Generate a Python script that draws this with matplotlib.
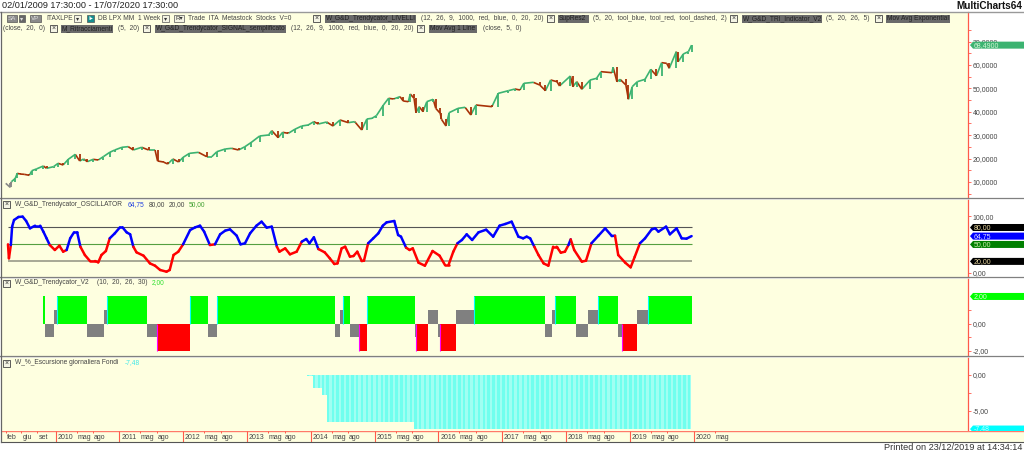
import numpy as np
import matplotlib
matplotlib.use("Agg")
import matplotlib.pyplot as plt
from matplotlib.collections import LineCollection
from matplotlib.patches import Rectangle, Polygon

plt.rcParams['font.family'] = ['Liberation Sans', 'DejaVu Sans']

# price, weekly chart (thousands)
price_x = [2009.22, 2009.29, 2009.31, 2009.37, 2009.40, 2009.44, 2009.51, 2009.59, 2009.63, 2009.70, 2009.81, 2009.86, 2009.97,
           2010.04, 2010.12, 2010.20, 2010.31, 2010.38, 2010.44, 2010.50, 2010.59, 2010.67, 2010.75, 2010.85, 2010.93,
           2011.04, 2011.14, 2011.22, 2011.35, 2011.46, 2011.56, 2011.60, 2011.69, 2011.76, 2011.84, 2011.93,
           2012.00, 2012.10, 2012.24, 2012.37, 2012.45, 2012.53, 2012.66, 2012.76, 2012.87, 2012.97,
           2013.07, 2013.20, 2013.34, 2013.39, 2013.49, 2013.56, 2013.65, 2013.75, 2013.86, 2013.96,
           2014.05, 2014.12, 2014.25, 2014.35, 2014.46, 2014.59, 2014.69, 2014.80, 2014.88, 2014.96,
           2015.03, 2015.14, 2015.22, 2015.30, 2015.37, 2015.40, 2015.45, 2015.53, 2015.56, 2015.62, 2015.65, 2015.70, 2015.76, 2015.82, 2015.92, 2015.96,
           2016.03, 2016.05, 2016.12, 2016.17, 2016.31, 2016.42, 2016.51, 2016.59, 2016.84, 2016.94,
           2017.10, 2017.20, 2017.28, 2017.34, 2017.49, 2017.59, 2017.68, 2017.76, 2017.86, 2017.90,
           2018.07, 2018.11, 2018.17, 2018.25, 2018.38, 2018.48, 2018.55, 2018.72, 2018.74, 2018.80, 2018.85, 2018.94, 2018.98,
           2019.04, 2019.12, 2019.24, 2019.33, 2019.42, 2019.50, 2019.58, 2019.62, 2019.73, 2019.76, 2019.84, 2019.92, 2019.97]
price_y = [9.43, 7.72, 10.14, 11.57, 13.70, 13.42, 13.28, 12.85, 14.84, 15.56, 16.84, 15.84, 16.55,
           17.98, 17.27, 19.69, 21.82, 18.97, 19.83, 18.69, 19.69, 19.40, 20.83, 22.68, 23.68,
           24.82, 25.10, 23.68, 24.82, 23.68, 23.68, 18.97, 18.55, 17.69, 19.83, 18.55,
           20.54, 22.25, 22.68, 20.83, 20.83, 22.96, 24.10, 24.39, 23.68, 25.10,
           26.95, 29.66, 30.09, 31.94, 28.95, 31.23, 30.80, 32.51, 33.93, 34.36,
           35.78, 34.79, 35.64, 33.93, 36.50, 35.36, 35.78, 32.22, 36.92, 37.21,
           38.35, 42.90, 45.75, 45.47, 46.18, 46.47, 44.62, 44.33, 47.61, 45.75, 39.63, 42.19, 40.06, 44.33, 45.33, 41.48,
           39.35, 36.78, 33.93, 39.63, 41.48, 41.91, 38.63, 42.90, 42.19, 47.89,
           49.03, 49.74, 49.32, 52.17, 52.59, 51.45, 49.03, 53.59, 52.88, 51.03,
           55.30, 50.74, 52.88, 49.60, 53.59, 54.30, 57.15, 56.72, 59.00, 52.88, 53.87, 51.45, 45.33,
           50.74, 52.88, 53.87, 58.15, 55.44, 61.00, 60.71, 58.57, 65.70, 61.42, 64.70, 65.70, 68.49]
price_last = 68.49

# oscillator
osc_x = [2009.255, 2009.27, 2009.30, 2009.32, 2009.35, 2009.42, 2009.485, 2009.54, 2009.60, 2009.68, 2009.76, 2009.81, 2009.86, 2009.91, 2009.99,
         2010.06, 2010.12, 2010.175, 2010.23, 2010.29, 2010.34, 2010.39, 2010.46, 2010.54, 2010.62, 2010.67, 2010.72, 2010.79, 2010.85, 2010.93,
         2011.01, 2011.05, 2011.115, 2011.17, 2011.22, 2011.27, 2011.38, 2011.48, 2011.56, 2011.64, 2011.74, 2011.79, 2011.85, 2011.925,
         2012.00, 2012.11, 2012.19, 2012.265, 2012.33, 2012.42, 2012.50, 2012.58, 2012.66, 2012.735, 2012.84, 2012.90, 2012.97,
         2013.05, 2013.15, 2013.23, 2013.31, 2013.39, 2013.47, 2013.51, 2013.60, 2013.675, 2013.78, 2013.86, 2013.93, 2013.98,
         2014.05, 2014.12, 2014.22, 2014.30, 2014.37, 2014.42, 2014.485, 2014.54, 2014.615, 2014.67, 2014.73, 2014.80, 2014.835, 2014.90, 2014.98,
         2015.06, 2015.13, 2015.19, 2015.31, 2015.37, 2015.415, 2015.495, 2015.55, 2015.60, 2015.69, 2015.79, 2015.91,
         2016.02, 2016.105, 2016.16, 2016.235, 2016.30, 2016.37, 2016.445, 2016.53, 2016.63, 2016.75, 2016.86, 2016.96,
         2017.05, 2017.15, 2017.255, 2017.33, 2017.385, 2017.44, 2017.505, 2017.57, 2017.65, 2017.725, 2017.80, 2017.855, 2017.92, 2017.985,
         2018.04, 2018.075, 2018.13, 2018.25, 2018.315, 2018.40, 2018.51, 2018.615, 2018.72, 2018.77, 2018.82, 2018.93,
         2019.015, 2019.08, 2019.16, 2019.24, 2019.345, 2019.40, 2019.45, 2019.57, 2019.63, 2019.735, 2019.815, 2019.89, 2019.97]
osc_y = [50.2, 25.4, 49.0, 81.5, 93.2, 98.6, 99.2, 91.5, 78.5, 83.2, 83.2, 72.6, 60.8, 49.0, 40.2,
         47.8, 37.2, 40.2, 60.8, 71.4, 71.4, 46.0, 31.3, 20.7, 20.7, 18.3, 31.3, 38.4, 60.8, 69.7,
         80.3, 80.3, 71.4, 67.9, 46.0, 36.0, 30.1, 16.5, 12.4, 4.8, 1.8, 4.8, 31.3, 37.2,
         50.2, 75.5, 80.3, 83.2, 72.6, 49.0, 50.2, 67.9, 74.4, 76.7, 65.5, 50.2, 52.0,
         69.7, 83.2, 90.3, 79.7, 81.5, 46.0, 37.2, 43.1, 32.5, 37.2, 54.9, 59.6, 52.0,
         62.6, 41.9, 36.0, 25.4, 15.4, 16.5, 43.1, 46.0, 28.4, 29.5, 37.2, 20.7, 21.3, 52.0, 60.8,
         69.7, 83.2, 89.1, 91.5, 66.7, 63.8, 44.3, 40.2, 43.1, 17.7, 12.4, 38.4,
         30.1, 13.6, 13.6, 37.2, 52.0, 57.9, 67.9, 57.9, 71.4, 76.1, 63.8, 83.2,
         86.2, 90.3, 63.8, 60.8, 63.8, 60.8, 46.0, 31.3, 16.5, 12.4, 46.0, 46.0, 35.4, 37.2,
         49.0, 59.0, 40.2, 19.5, 21.3, 52.0, 65.5, 78.5, 64.9, 65.5, 31.3, 17.7,
         9.5, 28.4, 52.0, 60.8, 76.7, 78.5, 72.6, 81.5, 67.9, 78.5, 60.8, 60.2, 64.75]
osc_levels = [80, 50, 20]

# trend state, each state holds from its start until the next one
trend_start = [2009.80, 2009.84, 2009.975, 2010.02, 2010.50, 2010.76, 2010.80, 2011.435, 2011.585, 2012.11, 2012.39, 2012.53,
               2014.38, 2014.46, 2014.50, 2014.616, 2014.76, 2014.877, 2015.635, 2015.65, 2015.845, 2016.00, 2016.03, 2016.28, 2016.56,
               2017.68, 2017.78, 2017.83, 2018.16, 2018.35, 2018.50, 2018.81, 2018.885, 2019.11, 2019.28, 2019.98]
trend_state = [2, -1, 1, 2, -1, 1, 2, -1, -2, 2, -1, 2,
               -1, 1, 2, -1, -2, 2, -1, -2, 1, -1, -2, 1, 2,
               -1, 1, 2, -1, 1, 2, -1, -2, 1, 2]

# escursione, steps of the weekly bars
esc_start = [2013.96, 2014.05, 2014.19, 2014.27, 2015.64, 2019.97]
esc_value = [-0.2, -1.8, -2.8, -6.45, -7.48]

month_ticks = [2009.22, 2009.46, 2009.71]
month_names = ['feb', 'giu', 'set']
years = list(range(2010, 2021))

BG = '#feffe0'
W, H = 1024, 453
X0, X1 = 1, 968
PX_YEAR = 63.8
FS = 4.8
xlim = (2010 + (X0 - 55.5) / PX_YEAR, 2010 + (X1 - 55.5) / PX_YEAR)

fig = plt.figure(figsize=(W / 100, H / 100), dpi=100, facecolor='white')

def panel(top, bottom, ylim):
    ax = fig.add_axes([X0 / W, 1 - bottom / H, (X1 - X0) / W, (bottom - top) / H], facecolor=BG)
    ax.set_xlim(xlim)
    ax.set_ylim(ylim)
    for s in ['top', 'left', 'bottom']:
        ax.spines[s].set_visible(False)
    ax.spines['right'].set_color('#ff5a4a')
    ax.spines['right'].set_linewidth(0.9)
    ax.set_xticks([])
    ax.yaxis.tick_right()
    ax.tick_params(axis='y', which='both', colors='#ff5a4a', length=2, width=0.6, pad=1.5, labelsize=5, labelcolor='#444444')
    return ax

def flag(ax, val, txt, color, tc):
    # value marker in the price scale
    tr = ax.get_yaxis_transform()
    px = 1 / (X1 - X0)
    ymin, ymax = ax.get_ylim()
    pos = ax.get_position()
    dy = 3.5 / (pos.height * H) * (ymax - ymin)
    ax.add_patch(Polygon([(1 + 2 * px, val), (1 + 5 * px, val + dy), (1 + 60 * px, val + dy), (1 + 60 * px, val - dy), (1 + 5 * px, val - dy)],
                         closed=True, transform=tr, clip_on=False, fc=color, ec='none', zorder=5))
    ax.text(1 + 6 * px, val, txt, transform=tr, fontsize=5, color=tc, va='center', ha='left', zorder=6, clip_on=False)

# price
ax1 = panel(12, 198, (3.16, 82.65))
px = np.array(price_x)
py = np.array(price_y)
segs = [[(px[i], py[i]), (px[i + 1], py[i + 1])] for i in range(len(px) - 1)]
cols = ['#3cb371' if py[i + 1] >= py[i] else '#a83208' for i in range(len(px) - 1)]
cols[0] = '#888888'
cols[1] = '#888888'
ax1.add_collection(LineCollection(segs, colors=cols, linewidths=1.2, capstyle='butt'))
# candle bodies over the line, open is the previous close
ax1.vlines(px[1:], py[:-1], py[1:], colors=cols, linewidths=1.3, zorder=3)
ax1.set_yticks(range(10, 71, 10))
ax1.set_yticklabels(['%d,0000' % v for v in range(10, 71, 10)])
ax1.set_yticks(range(5, 80, 10), minor=True)
flag(ax1, price_last, '68,4900', '#3cb371', '#d8f5d8')

# oscillator
ax2 = panel(199, 277, (-7.6, 130.4))
ox = np.array(osc_x)
oy = np.array(osc_y)
segs = [[(ox[i], oy[i]), (ox[i + 1], oy[i + 1])] for i in range(len(ox) - 1)]
cols = ['#0000ff' if (oy[i] + oy[i + 1]) / 2 >= 50 else '#ff0000' for i in range(len(ox) - 1)]
ax2.hlines(osc_levels[0], ox[0], ox[-1], color='#555555', lw=0.8)
ax2.hlines(osc_levels[1], ox[0], ox[-1], color='#55a040', lw=0.8)
ax2.hlines(osc_levels[2], ox[0], ox[-1], color='#999988', lw=1.2)
ax2.add_collection(LineCollection(segs, colors=cols, linewidths=1.8, capstyle='round', zorder=3))
ax2.set_yticks([0, 100])
ax2.set_yticklabels(['0,00', '100,00'])
flag(ax2, 80, '80,00', 'black', '#e8d8a0')
flag(ax2, osc_y[-1], '64,75', '#0000ff', '#e0e0ff')
flag(ax2, 50, '50,00', '#008000', '#d0f0b0')
flag(ax2, 20, '20,00', 'black', '#e8d8a0')

# trend state
ax3 = panel(277, 356, (-2.375, 3.43))
tcolor = {2: '#00ff00', 1: '#808080', -1: '#808080', -2: '#ff0000'}
for i, st in enumerate(trend_state):
    ax3.bar(trend_start[i], st, width=trend_start[i + 1] - trend_start[i], align='edge', color=tcolor[st], lw=0)
    if i > 0 and st == 2:
        ax3.vlines(trend_start[i], 0, st, color='#00ffff', lw=0.8)
    if st == -2:
        ax3.vlines(trend_start[i], st, 0, color='#ff00ff', lw=0.8)
ax3.set_yticks([-2, 0])
ax3.set_yticklabels(['-2,00', '0,00'])
ax3.set_yticks([-1, 1], minor=True)
flag(ax3, 2, '2,00', '#00ff00', '#d8ffd8')

# escursione
ax4 = panel(356, 431, (-7.75, 2.58))
week = 1 / 52.18
for i, v in enumerate(esc_value):
    wx = np.arange(esc_start[i], esc_start[i + 1], week)
    ax4.bar(wx, np.repeat(v, len(wx)), width=week * 1.02, color='#a0fff2', lw=0)
    ax4.bar(wx[::4], np.repeat(v, len(wx[::4])), width=week * 2, color='#70ffee', lw=0)
ax4.set_yticks([-5, 0])
ax4.set_yticklabels(['-5,00', '0,00'])
ax4.set_yticks([-2.5], minor=True)
flag(ax4, esc_value[-1], '-7,48', '#00ffff', '#c0ffff')

# time strip
ax5 = fig.add_axes([X0 / W, 1 - 442 / H, (W - X0) / W, 11 / H], facecolor=BG)
ax5.set_xlim(xlim[0], xlim[0] + (W - X0) / PX_YEAR)
ax5.set_ylim(1, 0)
ax5.set_xticks([])
ax5.set_yticks([])
for s in ax5.spines.values():
    s.set_visible(False)
ax5.axhline(0, color='#ff7a6a', lw=1.0)
ax5.spines['bottom'].set_visible(True)
ax5.spines['bottom'].set_color('#555555')
for t, n in zip(month_ticks, month_names):
    ax5.vlines(t, 0, 0.2, color='#ff5a4a', lw=0.7)
    ax5.text(t + 0.02, 0.58, n, fontsize=5, color='#444444', va='center', ha='left')
for y in years:
    ax5.vlines(y, 0, 1, color='#ff5a4a', lw=0.8)
    ax5.text(y + 0.03, 0.58, str(y), fontsize=5, color='#444444', va='center', ha='left')
    for off, n in [(0.33, 'mag'), (0.59, 'ago')]:
        if y == 2020 and n == 'ago':
            continue
        ax5.vlines(y + off, 0, 0.2, color='#ff5a4a', lw=0.7)
        ax5.text(y + off + 0.01, 0.58, n, fontsize=5, color='#444444', va='center', ha='left')

# overlay in pixels for the toolbar strings and separators
ov = fig.add_axes([0, 0, 1, 1], facecolor='none', zorder=10)
ov.set_xlim(0, W)
ov.set_ylim(H, 0)
ov.axis('off')

for y in [198, 277, 356]:
    ov.plot([0, W], [y, y], color='#808080', lw=0.9)
    ov.plot([0, X1], [y + 1, y + 1], color='#dddddd', lw=0.6)
ov.plot([0, W], [11.5, 11.5], color='#999999', lw=1.0)
ov.plot([1, 1], [12, 442], color='#666666', lw=0.9)

def txt(x, y, s, color='#444444', size=FS, **kw):
    ov.text(x, y, s, color=color, fontsize=size, va='center', ha=kw.pop('ha', 'left'), **kw)

def xbox(x, y):
    ov.add_patch(Rectangle((x, y - 3.5), 7, 7, fc='#f4f4e4', ec='#444444', lw=0.6))
    ov.text(x + 3.5, y, '×', fontsize=5, color='#333333', ha='center', va='center')

def dark(x0, x1, y, s):
    ov.add_patch(Rectangle((x0, y - 4), x1 - x0, 8, fc='#6a6a6a', ec='none'))
    ov.text(x0 + 1, y, s, fontsize=FS, color='#222222', va='center', ha='left')

def button(x0, x1, y, s, fc='#f4f4e4', color='#333333'):
    ov.add_patch(Rectangle((x0, y - 3.5), x1 - x0, 7, fc=fc, ec='#555555', lw=0.5))
    ov.text((x0 + x1) / 2, y, s, fontsize=4.5, color=color, ha='center', va='center')

txt(2, 6, '02/01/2009 17:30:00 - 17/07/2020 17:30:00', color='#222222', size=6.6)
txt(1022, 6, 'MultiCharts64', color='#111111', size=7.2, ha='right', fontweight='bold')
txt(1022, 447.5, 'Printed on 23/12/2019 at 14:34:14', color='#333333', size=6.6, ha='right')

r1, r2 = 18.5, 28.5
button(7, 17, r1, 'SA', fc='#8a8a8a', color='#dddddd')
button(19, 25, r1, '▾', fc='#666666', color='#dddddd')
button(30, 41, r1, 'VP', fc='#8a8a8a', color='#dddddd')
txt(46, r1, 'ITAXLPE')
button(74, 81, r1, '▾')
button(87, 94, r1, 'I▸', fc='#158f8f', color='white')
txt(98.5, r1, 'DB LPX MM  1 Week')
button(162, 169, r1, '▾')
button(174, 184, r1, 'R▾')
txt(188, r1, 'Trade  ITA  Metastock  Stocks  V=0')
xbox(313, r1)
dark(325, 416, r1, 'W_G&D_Trendycator_LIVELLI')
txt(421, r1, '(12,  26,  9,  1000,  red,  blue,  0,  20,  20)')
xbox(547, r1)
dark(558, 589, r1, 'SupRes2')
txt(593, r1, '(5,  20,  tool_blue,  tool_red,  tool_dashed,  2)')
xbox(730, r1)
dark(742, 822, r1, 'W_G&D_TRI_Indicator_V2')
txt(826, r1, '(5,  20,  26,  5)')
xbox(875, r1)
dark(886, 950, r1, 'Mov Avg Exponential')

txt(3, r2, '(close,  20,  0)')
xbox(50, r2)
dark(61, 113, r2, 'M_Ritracciamenti')
txt(118, r2, '(5,  20)')
xbox(143, r2)
dark(155, 286, r2, 'W_G&D_Trendycator_SIGNAL_semplificato')
txt(291, r2, '(12,  26,  9,  1000,  red,  blue,  0,  20,  20)')
xbox(417, r2)
dark(429, 477, r2, 'Mov Avg 1 Line')
txt(483, r2, '(close,  5,  0)')

xbox(3, 204.5)
txt(15, 204.5, 'W_G&D_Trendycator_OSCILLATOR')
txt(128, 204.5, '64,75', color='#2040e0')
txt(149, 204.5, '80,00')
txt(169, 204.5, '20,00')
txt(189, 204.5, '50,00', color='#40a030')

xbox(3, 283)
txt(15, 283, 'W_G&D_Trendycator_V2')
txt(97, 283, '(10,  20,  26,  30)')
txt(152, 283, '2,00', color='#30e030')

xbox(3, 363)
txt(15, 363, 'W_%_Escursione giornaliera Fondi')
txt(125, 363, '-7,48', color='#40e8e8')

fig.savefig('out.png', dpi=100, facecolor='white')
